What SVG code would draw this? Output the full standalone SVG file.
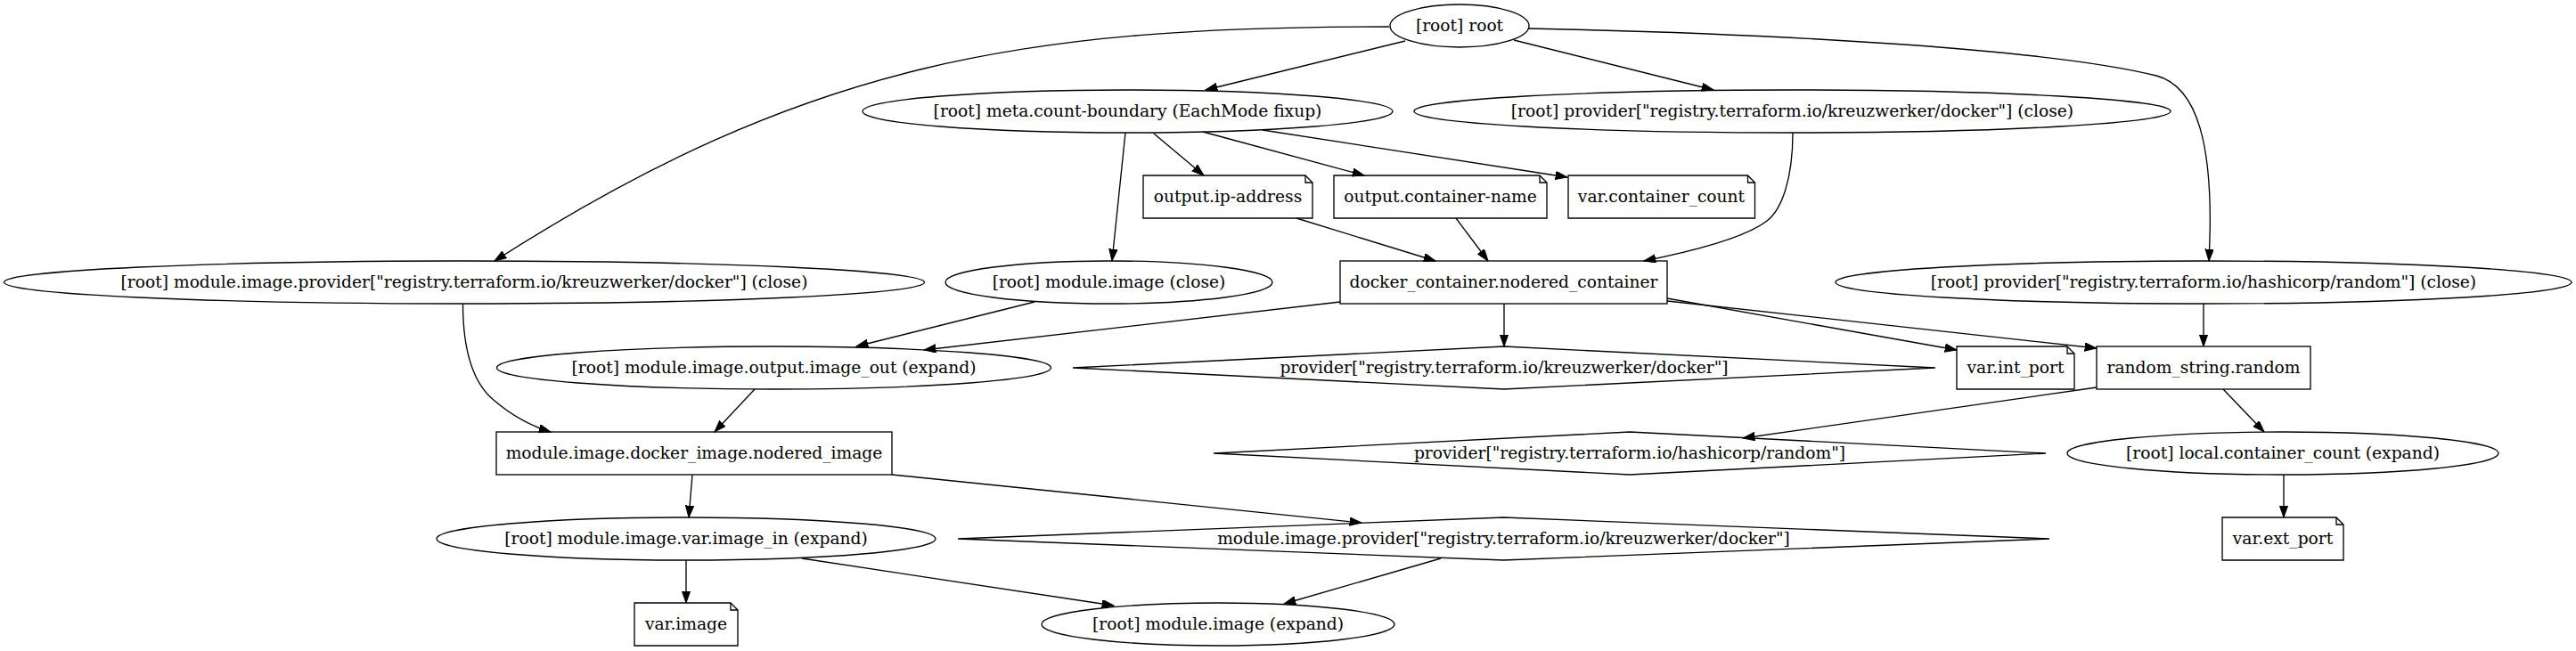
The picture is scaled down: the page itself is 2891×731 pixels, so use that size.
<svg xmlns="http://www.w3.org/2000/svg" width="2891" height="731" viewBox="0 0 2891 731">
<defs>
<style>
.n ellipse,.n rect,.n polygon,.n polyline{fill:none;stroke:#000;stroke-width:1.33}
.n text{font-family:"DejaVu Serif","Liberation Serif",serif;font-size:18.67px;text-anchor:middle;fill:#000}
#edges path{fill:none;stroke:#000;stroke-width:1.33;marker-end:url(#ah)}
</style>
<marker id="ah" markerWidth="14" markerHeight="10" refX="13.3" refY="4.67" orient="auto" markerUnits="userSpaceOnUse"><path d="M0,0 L13.3,4.67 L0,9.33 z" fill="#000" stroke="#000" stroke-width="1"/></marker>
</defs>
<rect width="2891" height="731" fill="#fff"/>
<g id="edges">
<path d="M1577,46 L1353,101"/>
<path d="M1699,45 L1923,101"/>
<path d="M1559,30 C1150,30 905,69 555,293"/>
<path d="M1716,32 C2000,38 2300,55 2420,85 C2465,97 2486,160 2479,293"/>
<path d="M1295,150 L1351,197"/>
<path d="M1350,148 L1531,197"/>
<path d="M1417,146 L1759,199"/>
<path d="M1263,149 L1248,293"/>
<path d="M1455,245 L1611,293"/>
<path d="M1634,245 L1670,293"/>
<path d="M2012,149 C2012,200 2000,235 1983,248 C1960,266 1900,282 1845,293"/>
<path d="M1504,339 L1037,393"/>
<path d="M1161,339 L961,389"/>
<path d="M1688,341 L1688,389"/>
<path d="M1871,335 L2196,393"/>
<path d="M1871,338 L2353,391"/>
<path d="M2473,341 L2473,389"/>
<path d="M2353,435 L1956,492"/>
<path d="M2495,437 L2541,485"/>
<path d="M2563,533 L2563,581"/>
<path d="M847,437 L802,485"/>
<path d="M519.5,341 C519.5,390 530,430 555,450 C575,467 595,478 618,485"/>
<path d="M777,533 L773,581"/>
<path d="M1001,533 L1528,587"/>
<path d="M770,629 L770,677"/>
<path d="M900,627 L1250,680"/>
<path d="M1617,627 L1441,678"/>
</g>
<g id="root" class="n"><ellipse cx="1638" cy="29" rx="78" ry="24"/><text x="1638" y="35">[root] root</text></g>
<g id="meta" class="n"><ellipse cx="1265.5" cy="125" rx="297.5" ry="24"/><text x="1265.5" y="131">[root] meta.count-boundary (EachMode fixup)</text></g>
<g id="prov_docker_close" class="n"><ellipse cx="2011.5" cy="125" rx="424.5" ry="24"/><text x="2011.5" y="131">[root] provider["registry.terraform.io/kreuzwerker/docker"] (close)</text></g>
<g id="out_ip" class="n"><polygon points="1283,197 1465,197 1473,205 1473,245 1283,245"/><polyline points="1465,197 1465,205 1473,205"/><text x="1378" y="227">output.ip-address</text></g>
<g id="out_cname" class="n"><polygon points="1497,197 1728,197 1736,205 1736,245 1497,245"/><polyline points="1728,197 1728,205 1736,205"/><text x="1616.5" y="227">output.container-name</text></g>
<g id="var_ccount" class="n"><polygon points="1760,197 1961.5,197 1969.5,205 1969.5,245 1760,245"/><polyline points="1961.5,197 1961.5,205 1969.5,205"/><text x="1864.5" y="227">var.container_count</text></g>
<g id="mod_image_close" class="n"><ellipse cx="1244.5" cy="317" rx="183.5" ry="24"/><text x="1244.5" y="323">[root] module.image (close)</text></g>
<g id="docker_container" class="n"><rect x="1504" y="293" width="367" height="48"/><text x="1687.5" y="323">docker_container.nodered_container</text></g>
<g id="mod_image_prov_close" class="n"><ellipse cx="521" cy="317" rx="516.5" ry="24"/><text x="521" y="323">[root] module.image.provider["registry.terraform.io/kreuzwerker/docker"] (close)</text></g>
<g id="prov_random_close" class="n"><ellipse cx="2473" cy="317" rx="413" ry="24"/><text x="2473" y="323">[root] provider["registry.terraform.io/hashicorp/random"] (close)</text></g>
<g id="image_out" class="n"><ellipse cx="868.5" cy="413" rx="311" ry="24"/><text x="868.5" y="419">[root] module.image.output.image_out (expand)</text></g>
<g id="prov_docker" class="n"><polygon points="1204,413 1688,389 2172,413 1688,437"/><text x="1688" y="419">provider["registry.terraform.io/kreuzwerker/docker"]</text></g>
<g id="var_int_port" class="n"><polygon points="2196,389 2320,389 2328,397 2328,437 2196,437"/><polyline points="2320,389 2320,397 2328,397"/><text x="2262" y="419">var.int_port</text></g>
<g id="random_string" class="n"><rect x="2353" y="389" width="240" height="48"/><text x="2473" y="419">random_string.random</text></g>
<g id="docker_image" class="n"><rect x="557" y="485" width="444" height="48"/><text x="779" y="515">module.image.docker_image.nodered_image</text></g>
<g id="prov_random" class="n"><polygon points="1362,509 1829,485 2296,509 1829,533"/><text x="1829" y="515">provider["registry.terraform.io/hashicorp/random"]</text></g>
<g id="local_ccount" class="n"><ellipse cx="2562" cy="509" rx="242" ry="24"/><text x="2562" y="515">[root] local.container_count (expand)</text></g>
<g id="image_in" class="n"><ellipse cx="770" cy="605" rx="280" ry="24"/><text x="770" y="611">[root] module.image.var.image_in (expand)</text></g>
<g id="mod_image_prov" class="n"><polygon points="1075,605 1687.5,581 2300,605 1687.5,629"/><text x="1687.5" y="611">module.image.provider["registry.terraform.io/kreuzwerker/docker"]</text></g>
<g id="var_ext_port" class="n"><polygon points="2494,581 2622,581 2630,589 2630,629 2494,629"/><polyline points="2622,581 2622,589 2630,589"/><text x="2562" y="611">var.ext_port</text></g>
<g id="var_image" class="n"><polygon points="712,677 820,677 828,685 828,725 712,725"/><polyline points="820,677 820,685 828,685"/><text x="770" y="707">var.image</text></g>
<g id="mod_image_expand" class="n"><ellipse cx="1367" cy="701" rx="198" ry="24"/><text x="1367" y="707">[root] module.image (expand)</text></g>
</svg>
